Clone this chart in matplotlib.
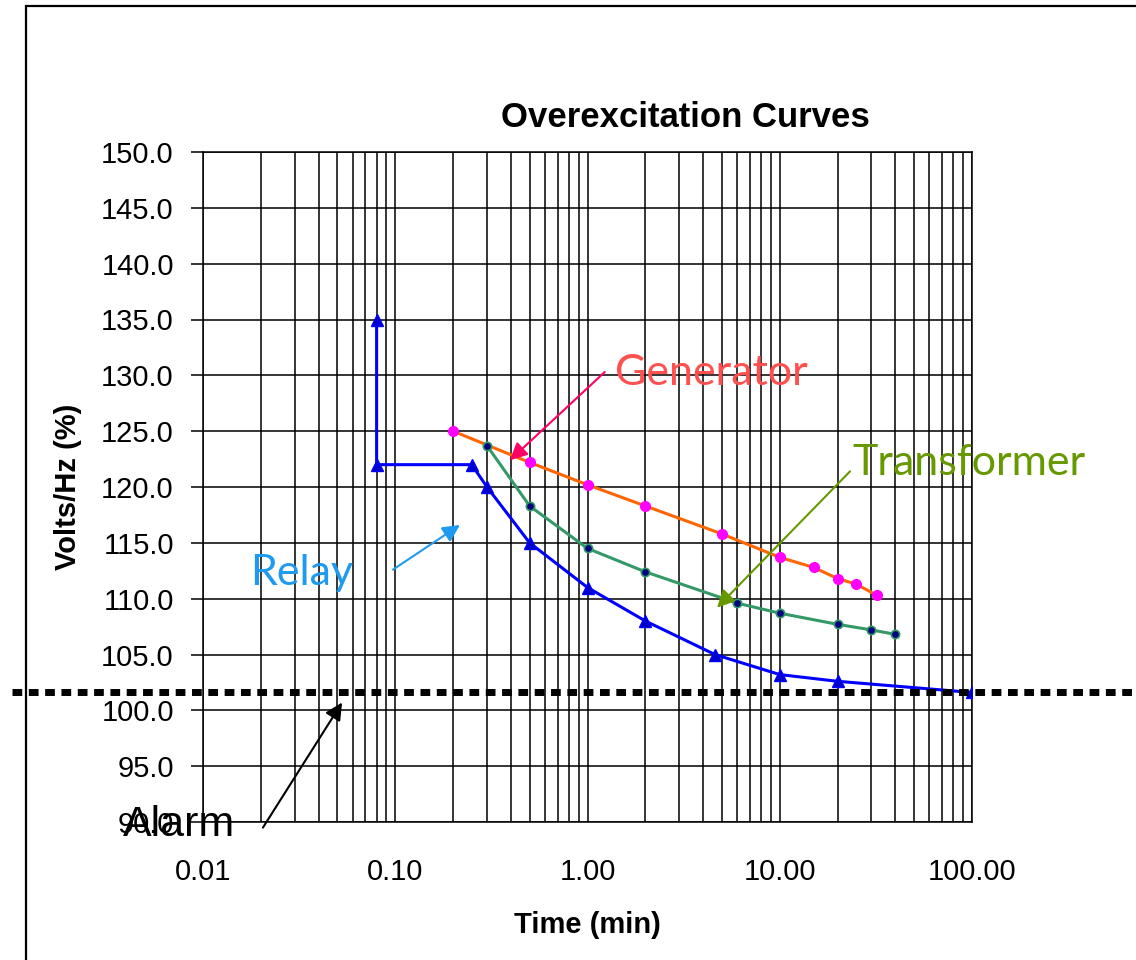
import numpy as np
import matplotlib
matplotlib.use('Agg')
import matplotlib.pyplot as plt
import matplotlib.transforms as mtransforms
from matplotlib.patches import Rectangle
from matplotlib.ticker import FixedLocator, FuncFormatter

plt.rcParams['font.family'] = ['Liberation Sans', 'DejaVu Sans']

# ---- data ----
relay_t = [0.08, 0.08, 0.25, 0.3, 0.5, 1.0, 2.0, 4.6, 10.0, 20.0, 100.0]
relay_v = [135.0, 122.0, 122.0, 120.0, 115.0, 111.0, 108.0, 105.0, 103.2, 102.6, 101.6]

gen_t = [0.2, 0.5, 1.0, 2.0, 5.0, 10.0, 15.0, 20.0, 25.0, 32.0]
gen_v = [125.0, 122.2, 120.2, 118.3, 115.8, 113.7, 112.8, 111.8, 111.3, 110.3]

xfmr_t = [0.3, 0.5, 1.0, 2.0, 6.0, 10.0, 20.0, 30.0, 40.0]
xfmr_v = [123.7, 118.3, 114.5, 112.4, 109.6, 108.7, 107.7, 107.2, 106.8]

alarm_level = 101.6

x_ticks = [0.01, 0.1, 1, 10, 100]
x_tick_labels = ['0.01', '0.10', '1.00', '10.00', '100.00']
y_ticks = np.arange(90, 151, 5)

fig = plt.figure(figsize=(11.36, 9.6), dpi=100)
ax = fig.add_axes([203 / 1136, 1 - 822 / 960, 769 / 1136, 670 / 960])

ax.set_xscale('log')
ax.set_xlim(0.01, 100)
ax.set_ylim(90, 150)

# grid
ax.xaxis.set_major_locator(FixedLocator(x_ticks))
minors = [m * d for d in [0.01, 0.1, 1, 10] for m in range(2, 10)]
ax.xaxis.set_minor_locator(FixedLocator(minors))
ax.xaxis.set_major_formatter(FuncFormatter(lambda v, p: x_tick_labels[x_ticks.index(v)] if v in x_ticks else ''))
ax.xaxis.set_minor_formatter(FuncFormatter(lambda v, p: ''))
ax.set_yticks(y_ticks)
ax.yaxis.set_major_formatter(FuncFormatter(lambda v, p: '%.1f' % v))
ax.grid(True, which='both', axis='x', color='black', lw=1.1)
ax.grid(True, which='major', axis='y', color='black', lw=1.1)
ax.set_axisbelow(True)

ax.tick_params(axis='y', which='major', direction='out', length=9, width=1.1,
               labelsize=21, pad=12)
ax.tick_params(axis='x', which='both', length=0, labelsize=21, pad=26)
for s in ax.spines.values():
    s.set_linewidth(1.1)
    s.set_color('black')

# series
ax.plot(relay_t, relay_v, color='#0000FF', lw=2.2, marker='^', ms=8,
        mfc='#0000CC', mec='#0000FF', zorder=5)
ax.plot(gen_t, gen_v, color='#FF6600', lw=2.2, marker='o', ms=7,
        mfc='#FF00FF', mec='#FF00FF', zorder=5)
ax.plot(xfmr_t, xfmr_v, color='#339966', lw=2.2, marker='o', ms=6,
        mfc='#000080', mec='#339966', mew=1.2, zorder=5)

# alarm line across the whole figure width
trans = mtransforms.blended_transform_factory(fig.transFigure, ax.transData)
ax.plot([12 / 1136, 1.0], [alarm_level, alarm_level], transform=trans,
        color='black', lw=5, ls=(0, (1.4, 0.95)), clip_on=False, zorder=6)

ax.set_title('Overexcitation Curves', fontsize=25, fontweight='bold', pad=18,
             x=(685 - 203) / 769)
ax.set_xlabel('Time (min)', fontsize=21, fontweight='bold', labelpad=18)
ax.set_ylabel('Volts/Hz (%)', fontsize=21, fontweight='bold', labelpad=14)

# callouts
arrow_kw = dict(arrowstyle='-|>', mutation_scale=26, lw=1.5, shrinkA=0, shrinkB=0)
ax.annotate('', xy=(0.395, 122.4), xytext=(1.23, 130.3),
            arrowprops=dict(color='#FF0066', **arrow_kw), annotation_clip=False, zorder=7)
ax.annotate('', xy=(4.72, 109.2), xytext=(23.2, 121.4),
            arrowprops=dict(color='#669900', **arrow_kw), annotation_clip=False, zorder=7)
ax.annotate('', xy=(0.217, 116.6), xytext=(0.0973, 112.6),
            arrowprops=dict(color='#1E9BF0', **arrow_kw), annotation_clip=False, zorder=7)
ax.annotate('', xy=(0.0529, 100.7), xytext=(0.0205, 89.5),
            arrowprops=dict(color='black', **arrow_kw), annotation_clip=False, zorder=7)

callout_font = ['Lato', 'DejaVu Sans']
fig.text(615 / 1136, 1 - 373 / 960, 'Generator', color='#FF5050', fontsize=31,
         family=callout_font, va='center', ha='left')
fig.text(852 / 1136, 1 - 463 / 960, 'Transformer', color='#669900', fontsize=31,
         family=callout_font, va='center', ha='left')
fig.text(250 / 1136, 1 - 573 / 960, 'Relay', color='#1E9BF0', fontsize=31,
         family=callout_font, va='center', ha='left')
fig.text(123 / 1136, 1 - 825 / 960, 'Alarm', color='black', fontsize=31,
         va='center', ha='left')

# outer frame
fig.patches.append(Rectangle((26 / 1136, -0.1), 1.2, 1.1 - 6 / 960,
                             transform=fig.transFigure, fill=False,
                             edgecolor='black', lw=1.6))

fig.savefig('out.png', dpi=100)
